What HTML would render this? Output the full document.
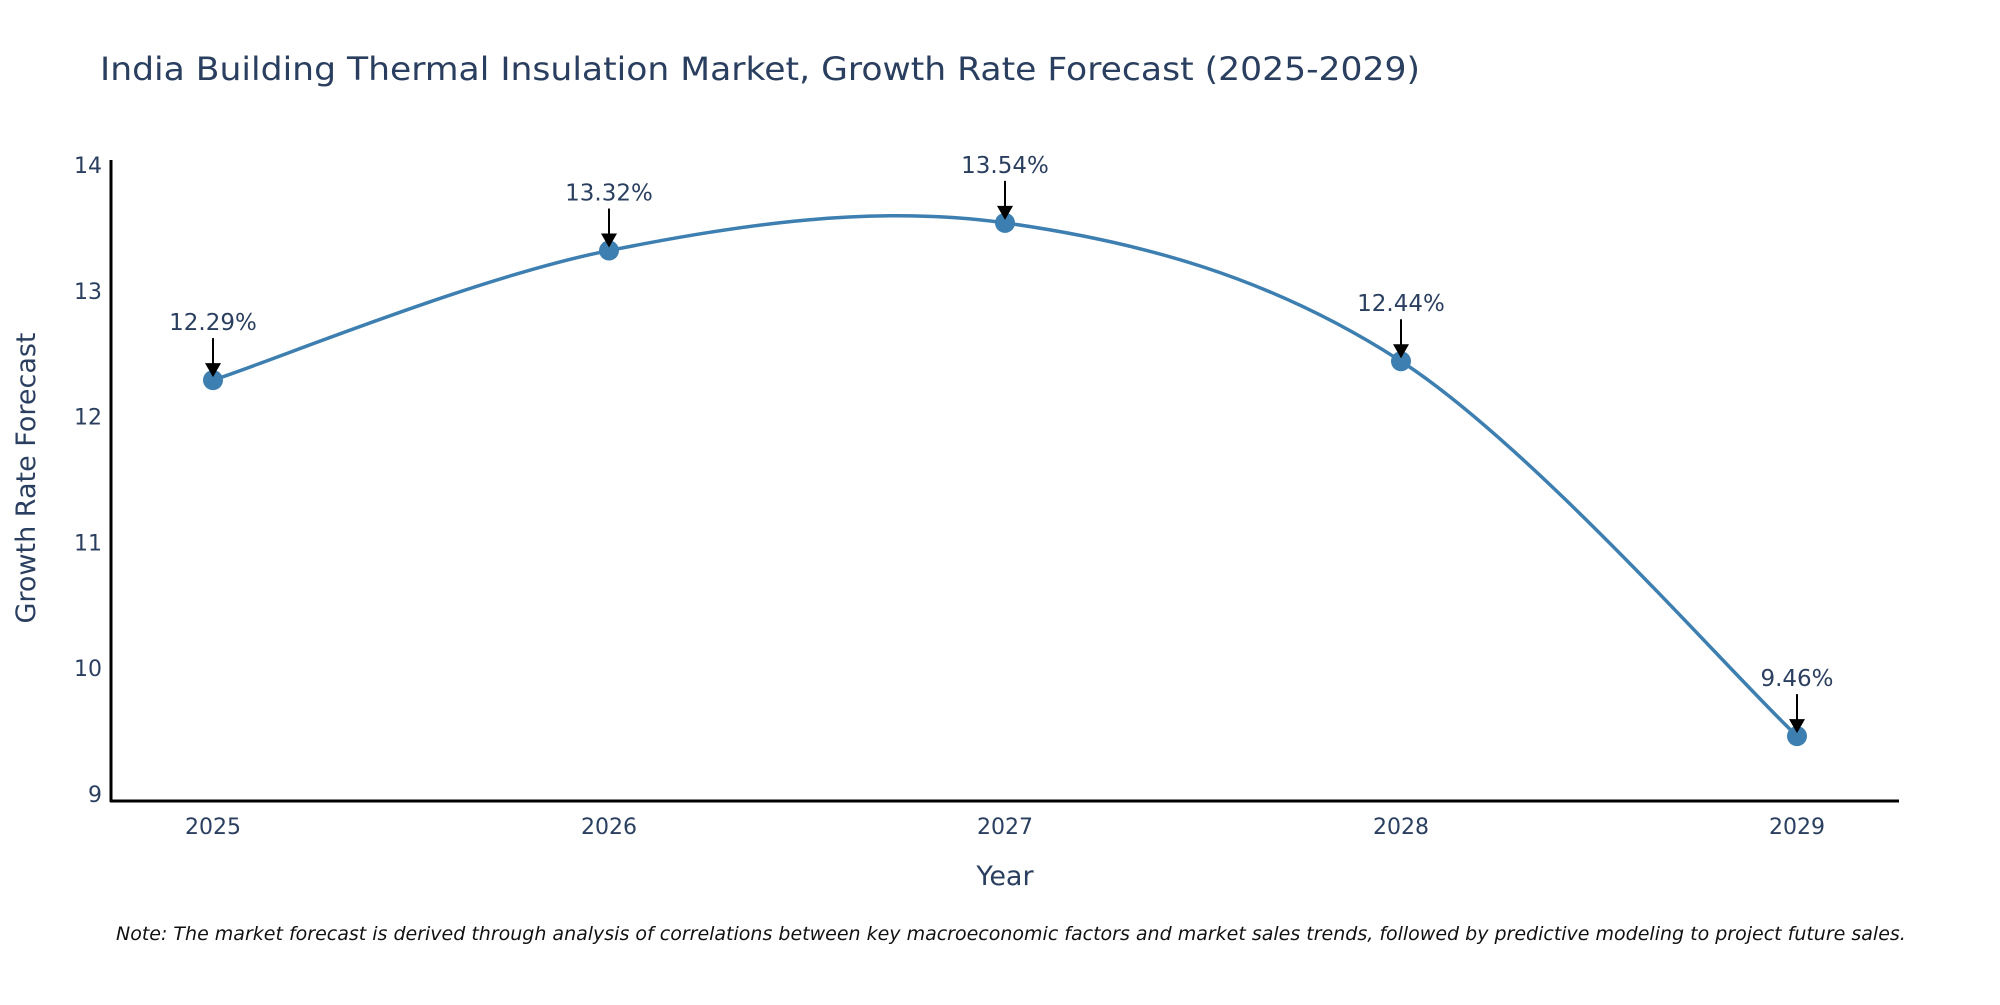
<!DOCTYPE html>
<html><head><meta charset="utf-8"><style>
body{margin:0;background:#fff;}
svg text{font-family:"DejaVu Sans","Liberation Sans",sans-serif;fill:#2a3f5f;}
</style></head><body>
<svg id="c" width="2000" height="1000" xmlns="http://www.w3.org/2000/svg">
<text x="100" y="80" font-size="32" textLength="1320" lengthAdjust="spacingAndGlyphs">India Building Thermal Insulation Market, Growth Rate Forecast (2025-2029)</text>
<g id="yt"></g><g id="xt"></g>
<line x1="111" y1="160" x2="111" y2="802" stroke="#000" stroke-width="3"/>
<line x1="110" y1="801" x2="1899" y2="801" stroke="#000" stroke-width="3"/>
<path id="line" fill="none" stroke="#3d7fb0" stroke-width="3.5"/>
<g id="pts"></g>
<text x="1005" y="885" font-size="27" text-anchor="middle">Year</text>
<text transform="translate(35,478) rotate(-90)" font-size="27" text-anchor="middle">Growth Rate Forecast</text>
<text x="116" y="940" font-size="19" font-style="italic" style="fill:#111">Note: The market forecast is derived through analysis of correlations between key macroeconomic factors and market sales trends, followed by predictive modeling to project future sales.</text>
</svg>
<script>
const years=["2025","2026","2027","2028","2029"];
const values=[12.29,13.32,13.54,12.44,9.46];
const yTicks=[9,10,11,12,13,14];
const NS="http://www.w3.org/2000/svg";
function xs(i){return 213+i*(1797-213)/(years.length-1);}
function ys(v){return 794-(v-9)*125.8;}
const yt=document.getElementById('yt'),xt=document.getElementById('xt'),pts=document.getElementById('pts');
yTicks.forEach(t=>{const e=document.createElementNS(NS,'text');


e.setAttribute('x',102);e.setAttribute('y',ys(t)+8);e.setAttribute('text-anchor','end');e.setAttribute('font-size','22');e.textContent=t;yt.appendChild(e);});
years.forEach((y,i)=>{const e=document.createElementNS(NS,'text');


e.setAttribute('x',xs(i));e.setAttribute('y',834);e.setAttribute('text-anchor','middle');e.setAttribute('font-size','22');e.textContent=y;xt.appendChild(e);});
const P=values.map((v,i)=>[xs(i),ys(v)]);
let d='M'+P[0][0]+','+P[0][1];
for(let i=0;i<P.length-1;i++){const p0=P[Math.max(i-1,0)],p1=P[i],p2=P[i+1],p3=P[Math.min(i+2,P.length-1)];const k=1/6;
d+=' C'+(p1[0]+(p2[0]-p0[0])*k)+','+(p1[1]+(p2[1]-p0[1])*k)+' '+(p2[0]-(p3[0]-p1[0])*k)+','+(p2[1]-(p3[1]-p1[1])*k)+' '+p2[0]+','+p2[1];}
document.getElementById('line').setAttribute('d',d);
values.forEach((v,i)=>{const x=xs(i),y=ys(v);
const c=document.createElementNS(NS,'circle');


c.setAttribute('cx',x);c.setAttribute('cy',y);c.setAttribute('r',10);c.setAttribute('fill','#3d7fb0');pts.appendChild(c);
const l=document.createElementNS(NS,'line');


l.setAttribute('x1',x);l.setAttribute('y1',y-42);l.setAttribute('x2',x);l.setAttribute('y2',y-14);l.setAttribute('stroke','#000');l.setAttribute('stroke-width','2');pts.appendChild(l);
const a=document.createElementNS(NS,'path');


a.setAttribute('d','M'+(x-8)+','+(y-17)+' L'+(x+8)+','+(y-17)+' L'+x+','+(y-3)+' Z');a.setAttribute('fill','#000');pts.appendChild(a);
const t=document.createElementNS(NS,'text');


t.setAttribute('x',x);t.setAttribute('y',y-50);t.setAttribute('text-anchor','middle');t.setAttribute('font-size','23');t.textContent=v.toFixed(2)+'%';pts.appendChild(t);});
</script>
</body></html>
